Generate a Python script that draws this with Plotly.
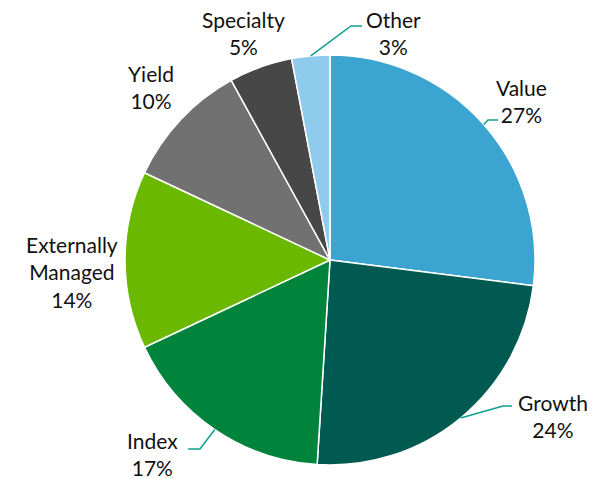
import math
import plotly.graph_objects as go

categorias = ['Value', 'Growth', 'Index', 'Externally<br>Managed', 'Yield', 'Specialty', 'Other']
porcentajes = [27, 24, 17, 14, 10, 5, 3]
colores = ['#3BA4D0', '#005A51', '#00843C', '#6AB800', '#717171', '#474747', '#8FCBEC']

W, H = 610, 479
cx, cy, r = 330, 260, 205

# label text centres (px) and leader line elbow points (px)
pos_etiquetas = {
    'Value': (521, 101), 'Growth': (553, 416), 'Index': (152, 454),
    'Externally<br>Managed': (72, 272), 'Yield': (151, 87),
    'Specialty': (243, 33), 'Other': (393, 33),
}
codos = {
    'Value': [(488, 120), (498, 120)],
    'Growth': [(503, 406), (512, 406)],
    'Index': [(200, 449), (188, 449)],
    'Other': [(351, 26), (362, 26)],
}

def px2paper(x, y):
    return x / W, 1 - y / H

fig = go.Figure(go.Pie(
    labels=categorias, values=porcentajes, sort=False, direction='clockwise',
    rotation=0, marker=dict(colors=colores, line=dict(color='white', width=1.5)),
    textinfo='none', hoverinfo='label+percent',
    domain=dict(x=[(cx - r) / W, (cx + r) / W], y=[1 - (cy + r) / H, 1 - (cy - r) / H]),
))

anotaciones = []
formas = []
acumulado = 0
total = sum(porcentajes)
for cat, val in zip(categorias, porcentajes):
    medio = (acumulado + val / 2) / total * 2 * math.pi
    acumulado += val
    x, y = pos_etiquetas[cat]
    xp, yp = px2paper(x, y)
    anotaciones.append(dict(text=f'{cat}<br>{val}%', x=xp, y=yp, xref='paper', yref='paper',
                            showarrow=False, xanchor='center', yanchor='middle'))
    if cat in codos:
        bx, by = cx + r * math.sin(medio), cy - r * math.cos(medio)
        puntos = [(bx, by)] + codos[cat]
        path = 'M ' + ' L '.join(f'{px2paper(a, b)[0]},{px2paper(a, b)[1]}' for a, b in puntos)
        formas.append(dict(type='path', path=path, xref='paper', yref='paper',
                           line=dict(color='#0F9E8E', width=1.5)))

fig.update_layout(
    width=W, height=H, margin=dict(l=0, r=0, t=0, b=0),
    paper_bgcolor='white', plot_bgcolor='white', showlegend=False,
    font=dict(family='Lato, Open Sans, sans-serif', size=21, color='#111111'),
    annotations=anotaciones, shapes=formas,
)
fig.write_html('out.html', config={'displayModeBar': False},
               post_script="document.body.style.margin='0';")
